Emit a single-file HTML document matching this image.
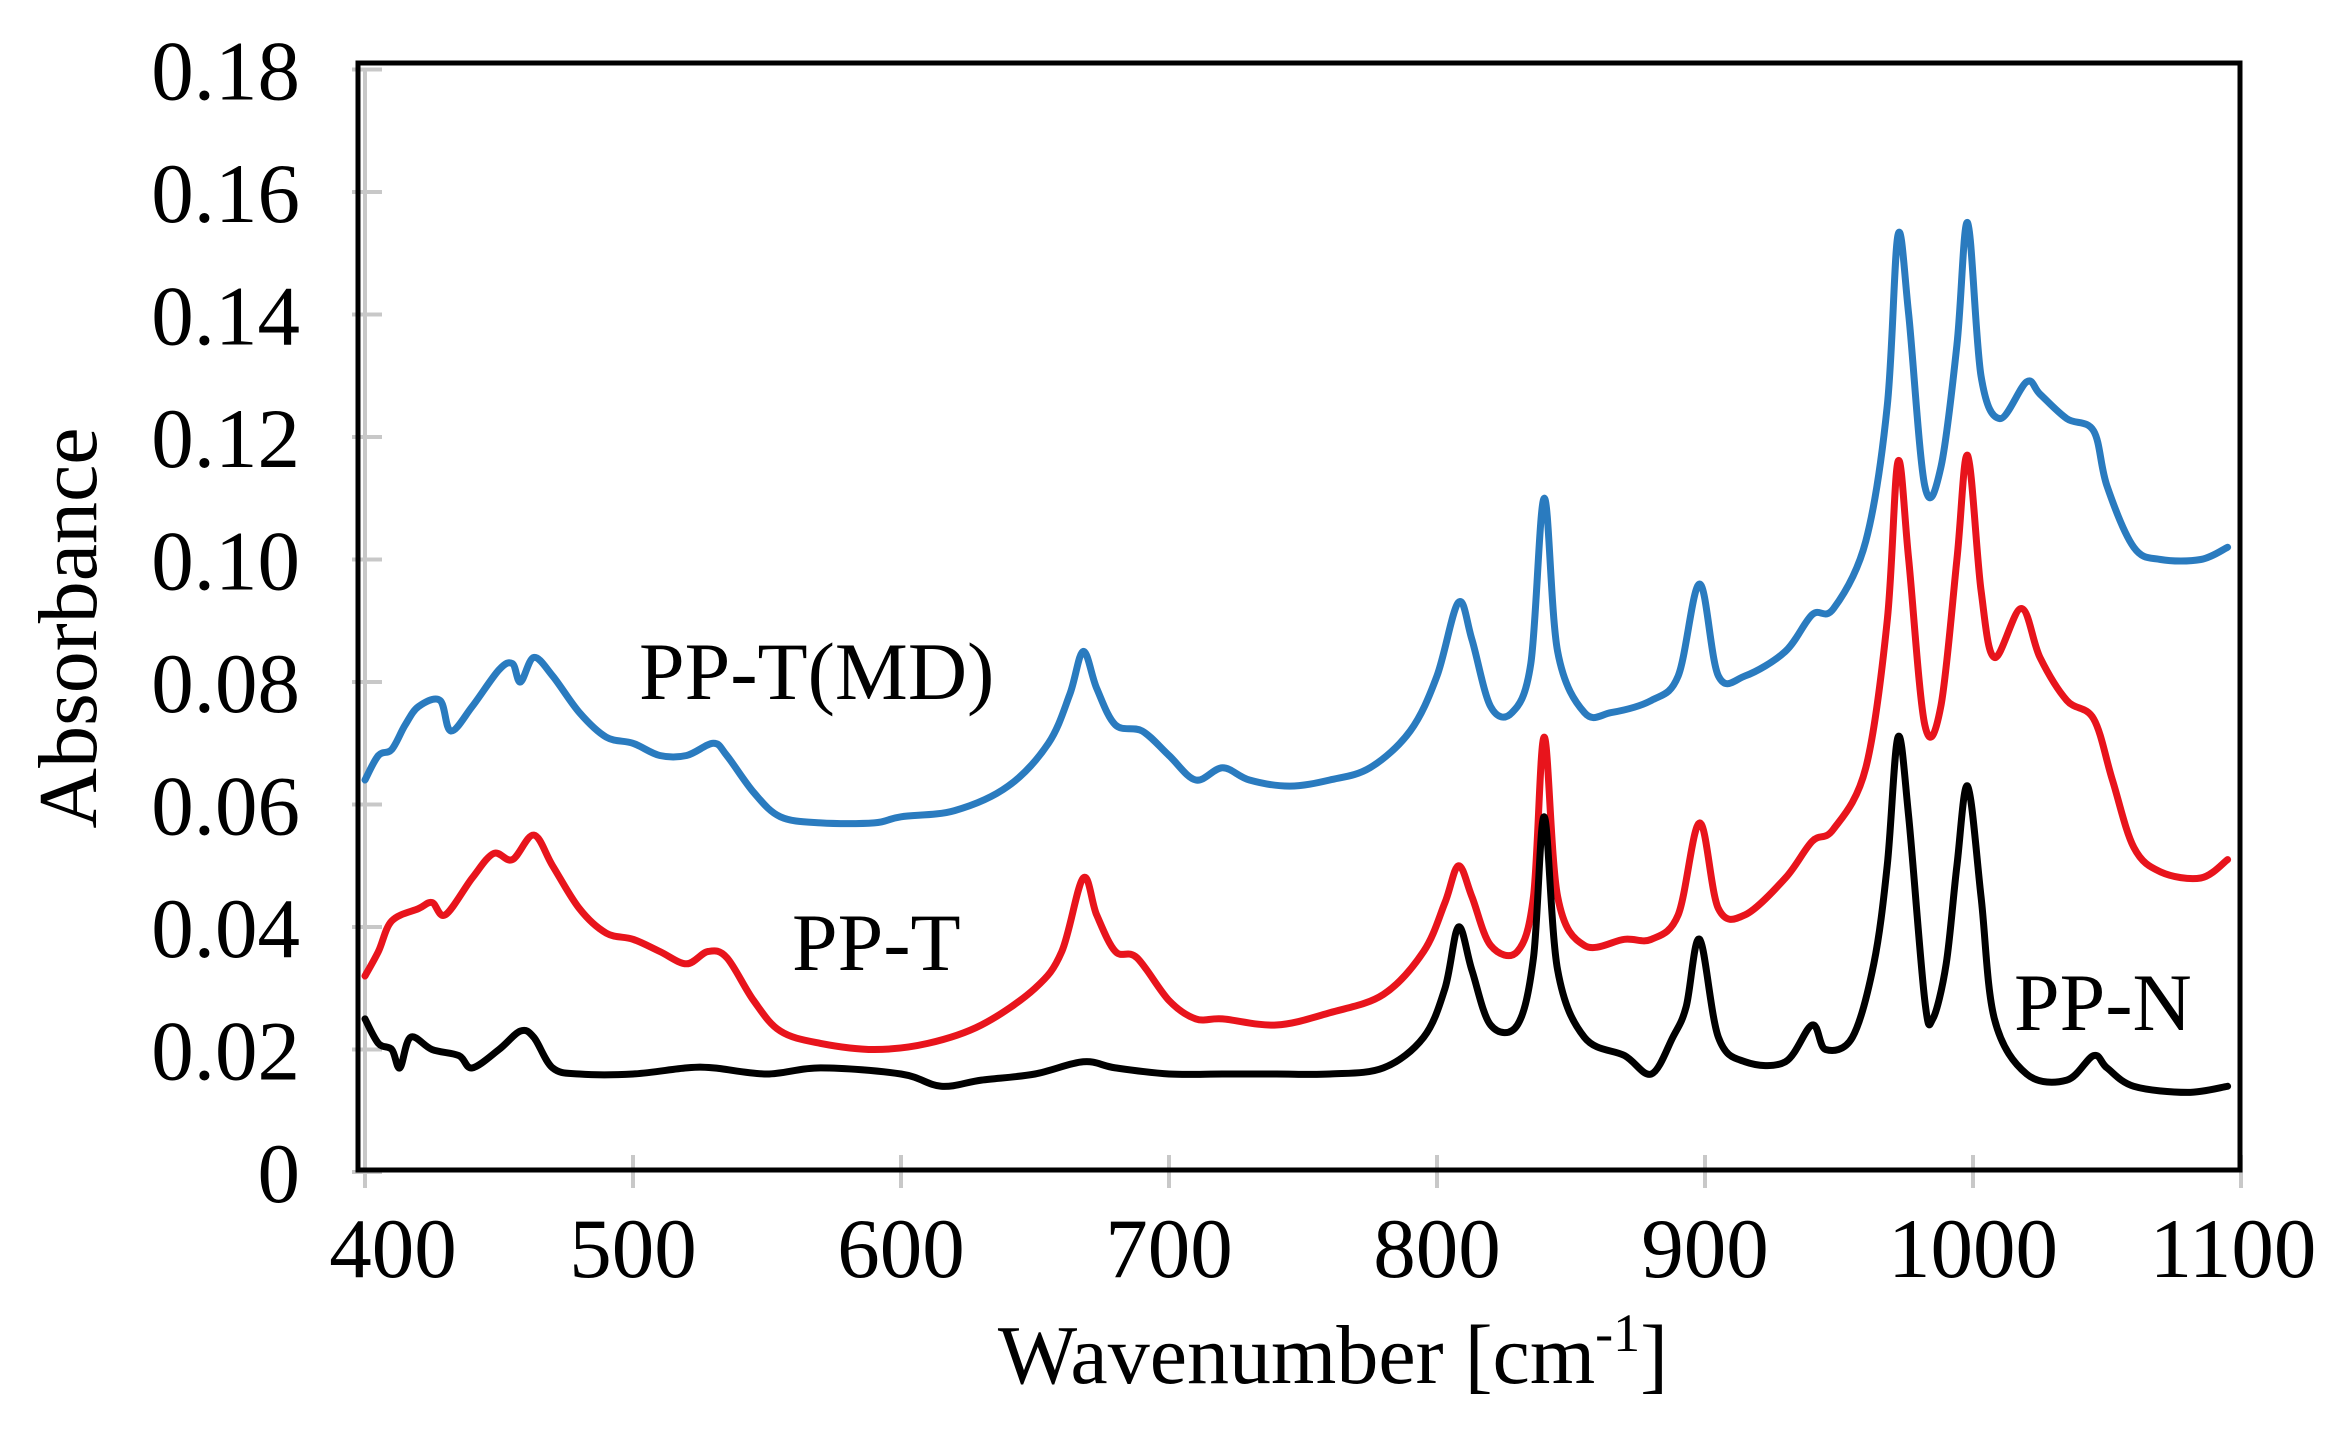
<!DOCTYPE html>
<html><head><meta charset="utf-8"><style>
html,body{margin:0;padding:0;background:#fff;}
svg{display:block;font-family:"Liberation Serif",serif;}
</style></head><body>
<svg id="chart" width="2345" height="1433" viewBox="0 0 2345 1433" xmlns="http://www.w3.org/2000/svg">
<rect x="0" y="0" width="2345" height="1433" fill="#fff"/>
<g id="axes"></g>
<g id="series"></g>
<rect x="358" y="63" width="1882" height="1107" fill="none" stroke="#000" stroke-width="5"/>
<text x="1333" y="1383" font-size="84" text-anchor="middle">Wavenumber [cm<tspan dy="-32" font-size="54">-1</tspan><tspan dy="32">]</tspan></text>
<text transform="translate(96,628) rotate(-90)" font-size="84" text-anchor="middle">Absorbance</text>
<text x="639" y="699" font-size="82">PP-T(MD)</text>
<text x="792" y="970" font-size="82">PP-T</text>
<text x="2014" y="1030" font-size="82">PP-N</text>
</svg>
<script>
const xTicks=[400,500,600,700,800,900,1000,1100];
const yTicks=[0,0.02,0.04,0.06,0.08,0.10,0.12,0.14,0.16,0.18];
const yTickLabels=["0","0.02","0.04","0.06","0.08","0.10","0.12","0.14","0.16","0.18"];
const blueWn=[400,405,410,415,420,428,432,440,450,455,458,463,470,480,490,500,510,520,530,535,545,555,570,590,600,620,640,655,663,668,673,680,690,700,710,720,730,745,760,775,790,800,808,813,820,828,835,840,845,855,865,880,890,898,905,915,930,940,948,960,968,972,976,982,988,994,998,1003,1010,1020,1025,1035,1045,1050,1060,1070,1085,1095];
const blueAbs=[0.064,0.068,0.069,0.073,0.076,0.077,0.072,0.076,0.082,0.083,0.080,0.084,0.081,0.075,0.071,0.070,0.068,0.068,0.070,0.068,0.062,0.058,0.057,0.057,0.058,0.059,0.063,0.070,0.078,0.085,0.079,0.073,0.072,0.068,0.064,0.066,0.064,0.063,0.064,0.066,0.072,0.081,0.093,0.087,0.076,0.075,0.083,0.110,0.085,0.075,0.075,0.077,0.081,0.096,0.081,0.081,0.085,0.091,0.092,0.103,0.125,0.153,0.140,0.112,0.115,0.135,0.155,0.130,0.123,0.129,0.127,0.123,0.121,0.112,0.102,0.100,0.100,0.102];
const redWn=[400,405,410,420,425,430,440,448,455,463,470,480,490,500,510,520,528,535,545,555,570,590,610,630,650,660,668,673,680,688,700,710,720,740,760,780,795,803,808,813,820,830,836,840,845,855,870,880,890,898,905,915,930,940,948,960,968,972,976,982,988,994,998,1003,1008,1018,1025,1035,1045,1052,1060,1070,1085,1095];
const redAbs=[0.032,0.036,0.041,0.043,0.044,0.042,0.048,0.052,0.051,0.055,0.050,0.043,0.039,0.038,0.036,0.034,0.036,0.035,0.028,0.023,0.021,0.020,0.021,0.024,0.030,0.036,0.048,0.042,0.036,0.035,0.028,0.025,0.025,0.024,0.026,0.029,0.036,0.044,0.050,0.045,0.037,0.036,0.045,0.071,0.045,0.037,0.038,0.038,0.042,0.057,0.043,0.042,0.048,0.054,0.056,0.066,0.090,0.116,0.100,0.073,0.076,0.100,0.117,0.095,0.084,0.092,0.084,0.077,0.074,0.064,0.053,0.049,0.048,0.051];
const blackWn=[400,405,410,413,417,425,435,440,450,458,463,470,480,500,520,530,550,570,600,615,630,650,668,680,700,720,740,760,780,795,803,808,813,820,830,836,840,845,855,870,880,888,893,898,905,915,930,940,945,955,963,968,972,976,982,985,990,994,998,1003,1008,1020,1035,1045,1050,1060,1080,1095];
const blackAbs=[0.025,0.021,0.020,0.017,0.022,0.020,0.019,0.017,0.020,0.023,0.022,0.017,0.016,0.016,0.017,0.017,0.016,0.017,0.016,0.014,0.015,0.016,0.018,0.017,0.016,0.016,0.016,0.016,0.017,0.022,0.030,0.040,0.033,0.024,0.024,0.035,0.058,0.033,0.022,0.019,0.016,0.022,0.027,0.038,0.022,0.018,0.018,0.024,0.020,0.022,0.034,0.050,0.071,0.058,0.028,0.025,0.034,0.050,0.063,0.045,0.025,0.016,0.015,0.019,0.017,0.014,0.013,0.014];

const NS="http://www.w3.org/2000/svg";
function xS(v){return 365+(v-400)*2.68;}
function yS(a){return 1172-a*6125;}
const axes=document.getElementById('axes');
const seriesG=document.getElementById('series');
function mk(tag,attrs,parent){const e=document.createElementNS(NS,tag);for(const k in attrs)e.setAttribute(k,attrs[k]);parent.appendChild(e);return e;}

const yAxisLine=mk('line',{x1:365,y1:yS(0.18),x2:365,y2:yS(0),stroke:'#c8c8c8','stroke-width':4},axes);


yTicks.forEach((t,i)=>{
  const tk=mk('line',{x1:352,x2:382,y1:yS(t),y2:yS(t),stroke:'#c8c8c8','stroke-width':4},axes);
  
  
  const lb=mk('text',{x:300,y:yS(t)+30,'font-size':85,'text-anchor':'end'},axes);
  lb.textContent=yTickLabels[i];
  
  
});
xTicks.forEach(t=>{
  const tk=mk('line',{x1:xS(t),x2:xS(t),y1:1155,y2:1188,stroke:'#c8c8c8','stroke-width':4},axes);
  
  
  let cx=xS(t); if(t===400)cx+=28; if(t===1100)cx-=8;
  const lb=mk('text',{x:cx,y:1277,'font-size':85,'text-anchor':'middle'},axes);
  lb.textContent=String(t);
  
  
});
function smoothPath(xs,ys){
  const p=xs.map((x,i)=>[xS(x),yS(ys[i])]);
  let d='M'+p[0][0].toFixed(1)+','+p[0][1].toFixed(1);
  for(let i=0;i<p.length-1;i++){
    const p0=p[i-1]||p[i],p1=p[i],p2=p[i+1],p3=p[i+2]||p2;
    const c1=[p1[0]+(p2[0]-p0[0])/6,p1[1]+(p2[1]-p0[1])/6];
    const c2=[p2[0]-(p3[0]-p1[0])/6,p2[1]-(p3[1]-p1[1])/6];
    d+=' C'+c1[0].toFixed(1)+','+c1[1].toFixed(1)+' '+c2[0].toFixed(1)+','+c2[1].toFixed(1)+' '+p2[0].toFixed(1)+','+p2[1].toFixed(1);
  }
  return d;
}
const sBlue=mk('path',{d:smoothPath(blueWn,blueAbs),fill:'none',stroke:'#2a7bbf','stroke-width':7,'stroke-linejoin':'round','stroke-linecap':'round'},seriesG);


const sRed=mk('path',{d:smoothPath(redWn,redAbs),fill:'none',stroke:'#e8141c','stroke-width':7,'stroke-linejoin':'round','stroke-linecap':'round'},seriesG);


const sBlack=mk('path',{d:smoothPath(blackWn,blackAbs),fill:'none',stroke:'#000','stroke-width':7,'stroke-linejoin':'round','stroke-linecap':'round'},seriesG);


</script>
</body></html>
